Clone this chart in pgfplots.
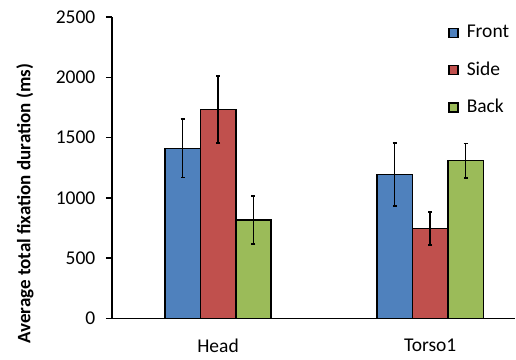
\documentclass[border=0pt]{standalone}
\usepackage{pgfplots}
\pgfplotsset{compat=1.18}
\usepackage{fontspec}
\setmainfont{Carlito}
\definecolor{front}{HTML}{4F81BD}
\definecolor{side}{HTML}{C0504D}
\definecolor{back}{HTML}{9BBB59}
\begin{document}
\fontsize{19.5bp}{23bp}\selectfont
\begin{tikzpicture}
\path[use as bounding box] (-112bp,-41.7bp) rectangle (404bp,318.3bp);
\begin{axis}[
  at={(0,0)}, anchor=south west,
  scale only axis, width=403bp, height=301.3bp,
  xmin=-0.5, xmax=1.4, ymin=0, ymax=2500,
  axis lines=left,
  axis line style={-, line width=1.5bp, black},
  xtick={0,1}, xticklabels={Head,Torso1},
  x tick style={draw=none},
  ytick={0,500,...,2500},
  tick align=outside, major tick length=6bp,
  y tick style={line width=1.5bp, black},
  /pgf/number format/1000 sep={},
  /pgf/number format/assume math mode=true,
  yticklabel style={xshift=-4bp},
  xticklabel style={yshift=-8bp},
  ylabel={Average total fixation duration (ms)},
  ylabel style={at={(rel axis cs:-0.216,0.38)}, anchor=center,
    font=\fontsize{19bp}{22bp}\selectfont\bfseries},
  ybar, bar width=0.167,
  every axis plot/.append style={draw=black, line width=1.5bp,
    error bars/y dir=both, error bars/y explicit,
    error bars/error bar style={line width=1.5bp, black},
    error bars/error mark options={rotate=90, mark size=2bp, line width=1.5bp, black}},
  legend style={at={(rel axis cs:0.834,0.98)}, anchor=north west, draw=none, fill=none,
    row sep=17bp, inner sep=0pt,
    /tikz/every odd column/.style={column sep=6bp}},
  legend cell align=left,
  legend image code/.code={\draw[#1, line width=1.5bp] (0bp,-4.5bp) rectangle (9bp,4.5bp);},
]
\addplot[fill=front, bar shift=-0.167] coordinates {
  (0,1410) +- (0,242)
  (1,1194) +- (0,262)
};
\addplot[fill=side, bar shift=0] coordinates {
  (0,1733) +- (0,277)
  (1,745) +- (0,137)
};
\addplot[fill=back, bar shift=0.167] coordinates {
  (0,816) +- (0,198)
  (1,1308) +- (0,143)
};
\legend{Front,Side,Back}
\end{axis}
\end{tikzpicture}
\end{document}
